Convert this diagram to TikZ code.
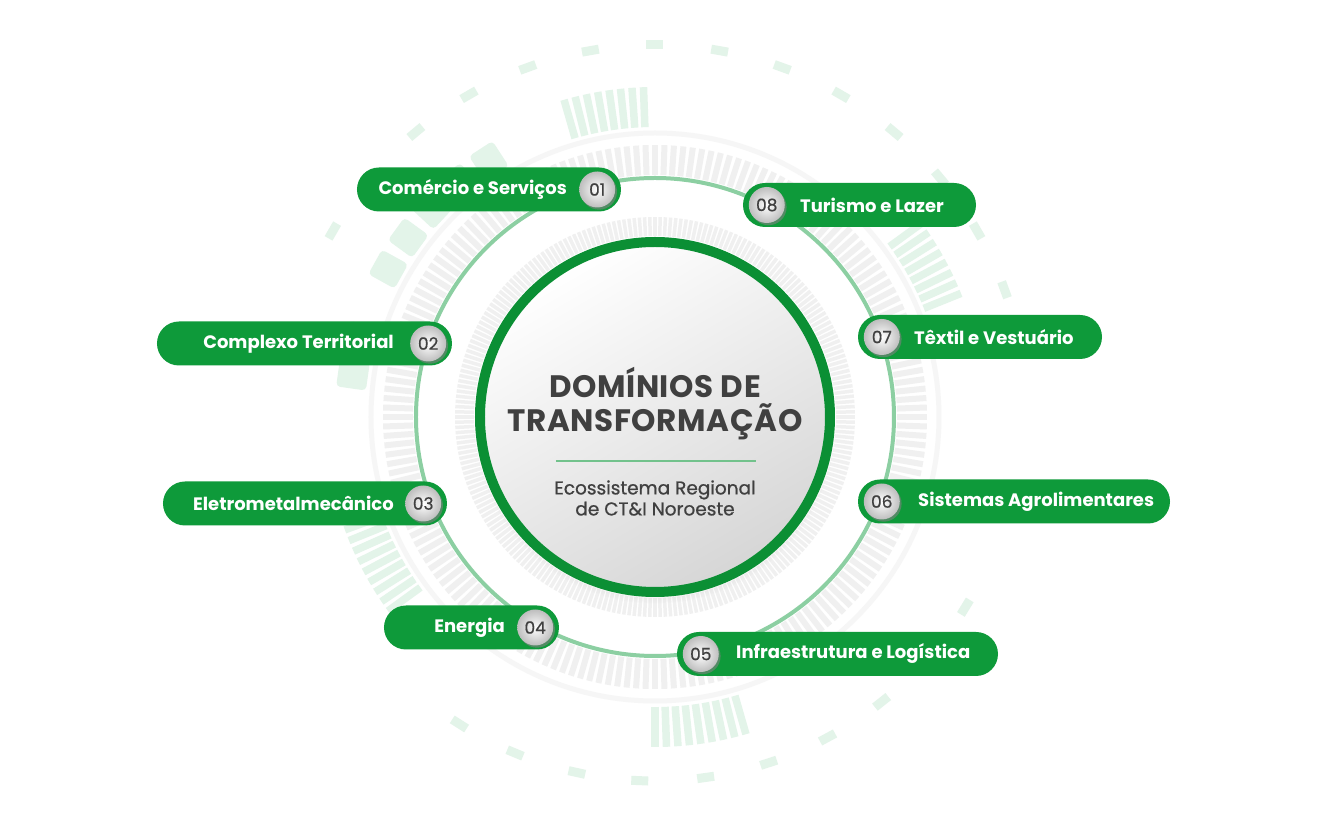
\documentclass[tikz,border=0pt]{standalone}
\usepackage{fontspec}
\setmainfont{Poppins}
\usetikzlibrary{positioning,shadows}

\definecolor{pillgreen}{RGB}{14,154,58}
\definecolor{ringgreen}{RGB}{11,143,52}
\definecolor{softgreen}{RGB}{140,207,162}
\definecolor{palegreen}{RGB}{227,244,233}
\definecolor{tickgrey}{RGB}{240,240,240}
\definecolor{badgegrey}{RGB}{190,190,190}
\definecolor{textgrey}{RGB}{64,64,64}

\begin{document}
\begin{tikzpicture}[x=1pt,y=1pt,
    pill/.style={rectangle, rounded corners=22pt, fill=pillgreen, minimum height=44pt, inner sep=0pt},
    badge/.style={circle, minimum size=36pt, inner sep=0pt, inner color=white, outer color=badgegrey,
        drop shadow={shadow xshift=1.8pt, shadow yshift=-2.2pt, opacity=0.6},
        text=textgrey, font=\fontsize{17}{17}\selectfont\addfontfeatures{FakeBold=0.6}},
    pilltext/.style={inner sep=0pt, text=white, font=\bfseries\fontsize{18}{18}\selectfont},
    ringdash/.style={rectangle, fill=palegreen, minimum width=9pt, minimum height=17pt, inner sep=0pt},
    block/.style={rectangle, rounded corners=4pt, fill=palegreen, minimum width=30pt, minimum height=28pt, inner sep=0pt}
]
    % Canvas
    \fill[white] (-655,-404) rectangle (663,417);
    \useasboundingbox (-655,-404) rectangle (663,417);

    % Background rings
    \draw[tickgrey!60, line width=5pt] (0,0) circle (284);
    \foreach \a in {0,2,...,358} \draw[tickgrey, line width=6pt] (\a:242) -- (\a:272);
    \foreach \a in {0,1.5,...,358.5} \draw[tickgrey, line width=3.5pt] (\a:181) -- (\a:200);

    % Pale green decorations
    \foreach \a in {20,30,...,150} \node[ringdash, rotate=\a] at (\a:372) {};
    \foreach \a in {-31.5,-41.6,-51.5,-61.7,-71.8,-82,-92.4,-102.4,-112.6,-122.5}
        \node[ringdash, rotate=\a] at (\a:364) {};
    \foreach \a in {92,94,...,106} \draw[palegreen, line width=7.5pt] (\a:290) -- (\a:330);
    \foreach \a in {22,24,...,36} \draw[palegreen, line width=7.5pt] (\a:290) -- (\a:330);
    \foreach \a in {-90,-88,...,-74} \draw[palegreen, line width=7.5pt] (\a:290) -- (\a:330);
    \foreach \a in {198,200,...,216} \draw[palegreen, line width=7.5pt] (\a:290) -- (\a:330);
    \foreach \a in {123,130,137,144,151,165,172} \node[block, rotate=\a] at (\a:305) {};

    % Orbit
    \draw[softgreen, line width=4pt] (0,0) circle (239);

    % Hub
    \node[circle, minimum size=350pt, draw=ringgreen, line width=10pt, top color=white,
        bottom color={rgb,255:red,214;green,214;blue,214}, shading angle=30,
        circular drop shadow={shadow xshift=0pt, shadow yshift=-6pt, opacity=0.25, shadow scale=1.03}]
        (hub) at (0,0) {};
    \node[align=center, text=textgrey, font=\bfseries\fontsize{31}{34}\selectfont\addfontfeatures{LetterSpace=2}]
        (title) at (0,13) {DOMÍNIOS DE\\TRANSFORMAÇÃO};
    \draw[softgreen!80!ringgreen, line width=1.2pt] ([shift={(-99pt,-44pt)}]hub.center) -- ([shift={(101pt,-44pt)}]hub.center);
    \node[align=center, text=textgrey, font=\fontsize{18.5}{21}\selectfont\addfontfeatures{FakeBold=0.8}]
        (subtitle) at (0,-81) {Ecossistema Regional\\de CT\&I Noroeste};

    % Domains, left side
    \node[pill, minimum width=264pt] (p1) at (-166,227.5) {};
    \node[badge] (b1) at ([xshift=-24pt]p1.east) {01};
    \node[pilltext, left=12pt of b1] (l1) {Comércio e Serviços};

    \node[pill, minimum width=295pt] (p2) at (-350.5,73.5) {};
    \node[badge] (b2) at ([xshift=-24pt]p2.east) {02};
    \node[pilltext, left=16pt of b2] (l2) {Complexo Territorial};

    \node[pill, minimum width=284pt] (p3) at (-350,-86.5) {};
    \node[badge] (b3) at ([xshift=-24pt]p3.east) {03};
    \node[pilltext, left=11pt of b3] (l3) {Eletrometalmecânico};

    \node[pill, minimum width=175pt] (p4) at (-183.5,-210.5) {};
    \node[badge] (b4) at ([xshift=-24pt]p4.east) {04};
    \node[pilltext, left=12pt of b4] (l4) {Energia};

    % Domains, right side
    \node[pill, minimum width=321pt] (p5) at (182.5,-237) {};
    \node[badge] (b5) at ([xshift=24pt]p5.west) {05};
    \node[pilltext, right=17pt of b5] (l5) {Infraestrutura e Logística};

    \node[pill, minimum width=312pt] (p6) at (359,-84.5) {};
    \node[badge] (b6) at ([xshift=24pt]p6.west) {06};
    \node[pilltext, right=18pt of b6] (l6) {Sistemas Agrolimentares};

    \node[pill, minimum width=244pt] (p7) at (325,80) {};
    \node[badge] (b7) at ([xshift=24pt]p7.west) {07};
    \node[pilltext, right=14pt of b7] (l7) {Têxtil e Vestuário};

    \node[pill, minimum width=233pt] (p8) at (204.5,212) {};
    \node[badge] (b8) at ([xshift=24pt]p8.west) {08};
    \node[pilltext, right=15pt of b8] (l8) {Turismo e Lazer};
\end{tikzpicture}
\end{document}
